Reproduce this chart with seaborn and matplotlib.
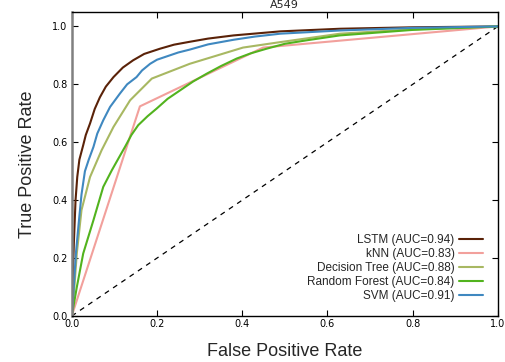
import matplotlib
matplotlib.use("Agg")
import matplotlib.pyplot as plt
import seaborn as sns
import pandas as pd

lstm_fpr = [0, 0.002, 0.005, 0.009, 0.013, 0.018, 0.027, 0.033, 0.043, 0.054, 0.066, 0.08, 0.098, 0.12, 0.144, 0.17, 0.207, 0.24, 0.277, 0.32, 0.38, 0.49, 0.63, 0.8, 1.0]
lstm_tpr = [0, 0.10, 0.25, 0.40, 0.48, 0.54, 0.59, 0.625, 0.665, 0.715, 0.755, 0.792, 0.825, 0.858, 0.883, 0.905, 0.923, 0.937, 0.947, 0.958, 0.969, 0.983, 0.992, 0.997, 1.0]

knn_fpr = [0, 0.16, 0.449, 1.0]
knn_tpr = [0, 0.724, 0.927, 1.0]

dt_fpr = [0, 0.004, 0.012, 0.023, 0.043, 0.07, 0.098, 0.137, 0.188, 0.277, 0.402, 0.49, 0.63, 0.8, 1.0]
dt_tpr = [0, 0.055, 0.217, 0.366, 0.48, 0.572, 0.653, 0.745, 0.82, 0.871, 0.927, 0.946, 0.975, 0.99, 1.0]

rf_fpr = [0, 0.004, 0.012, 0.027, 0.051, 0.074, 0.094, 0.11, 0.125, 0.14, 0.156, 0.178, 0.199, 0.225, 0.254, 0.285, 0.317, 0.35, 0.387, 0.42, 0.457, 0.5, 0.551, 0.629, 0.8, 1.0]
rf_tpr = [0, 0.032, 0.10, 0.216, 0.331, 0.446, 0.503, 0.545, 0.584, 0.625, 0.659, 0.69, 0.716, 0.75, 0.779, 0.81, 0.837, 0.863, 0.889, 0.907, 0.923, 0.94, 0.952, 0.969, 0.988, 1.0]

svm_fpr = [0, 0.004, 0.01, 0.017, 0.023, 0.031, 0.04, 0.051, 0.06, 0.074, 0.09, 0.113, 0.13, 0.152, 0.165, 0.184, 0.2, 0.23, 0.25, 0.277, 0.32, 0.38, 0.43, 0.49, 0.63, 0.8, 1.0]
svm_tpr = [0, 0.08, 0.22, 0.33, 0.42, 0.50, 0.54, 0.584, 0.63, 0.676, 0.722, 0.768, 0.80, 0.825, 0.848, 0.871, 0.885, 0.90, 0.91, 0.92, 0.938, 0.954, 0.965, 0.975, 0.986, 0.995, 1.0]

labels = ["LSTM (AUC=0.94)", "kNN (AUC=0.83)", "Decision Tree (AUC=0.88)",
          "Random Forest (AUC=0.84)", "SVM (AUC=0.91)"]
colors = ["#5a2208", "#f2a09c", "#a8b862", "#52b31e", "#3f88c0"]

series = [(lstm_fpr, lstm_tpr), (knn_fpr, knn_tpr), (dt_fpr, dt_tpr),
          (rf_fpr, rf_tpr), (svm_fpr, svm_tpr)]

frames = []
for lab, (f, t) in zip(labels, series):
    frames.append(pd.DataFrame({"fpr": f, "tpr": t, "model": lab}))
df = pd.concat(frames, ignore_index=True)

sns.set_theme(style="white")
plt.rcParams["font.family"] = ["DejaVu Sans"]

fig = plt.figure(figsize=(5.05, 3.62), dpi=100)
ax = fig.add_axes([0.142, 0.127, 0.844, 0.840])

ax.plot([0, 1], [0, 1], linestyle=(0, (4, 4)), color="black", linewidth=0.9)

sns.lineplot(data=df, x="fpr", y="tpr", hue="model", hue_order=labels,
             palette=dict(zip(labels, colors)), sort=False, estimator=None,
             units="model", linewidth=1.5, ax=ax, legend=True)

ax.set_xlim(0, 1)
ax.set_ylim(0, 1.05)
ax.set_xticks([0, 0.2, 0.4, 0.6, 0.8, 1.0])
ax.set_yticks([0, 0.2, 0.4, 0.6, 0.8, 1.0])
ax.set_xticklabels(["0.0", "0.2", "0.4", "0.6", "0.8", "1.0"])
ax.set_yticklabels(["0.0", "0.2", "0.4", "0.6", "0.8", "1.0"])
ax.tick_params(direction="in", length=4, width=0.8, labelsize=7, colors="black",
               top=True, right=True, bottom=True, left=True, pad=3)
ax.tick_params(axis="x", pad=2)

for s in ["top", "right", "bottom"]:
    ax.spines[s].set_color("black")
    ax.spines[s].set_linewidth(1.0)
ax.spines["left"].set_color("#808080")
ax.spines["left"].set_linewidth(1.8)

ax.set_xlabel("False Positive Rate", fontsize=13, family="Liberation Sans", labelpad=10)
ax.set_ylabel("True Positive Rate", fontsize=13, family="Liberation Sans", labelpad=12)
ax.set_title("A549", fontsize=8, pad=3)

handles, labs = ax.get_legend_handles_labels()
leg = ax.legend(handles, labs, loc="lower right", frameon=False, markerfirst=False,
                prop={"family": "Liberation Sans", "size": 8.5},
                handlelength=2.0, handletextpad=0.4, labelspacing=0.18,
                bbox_to_anchor=(0.99, 0.01))
for h in leg.get_lines():
    h.set_linewidth(1.5)

fig.savefig("out.png", dpi=100)
